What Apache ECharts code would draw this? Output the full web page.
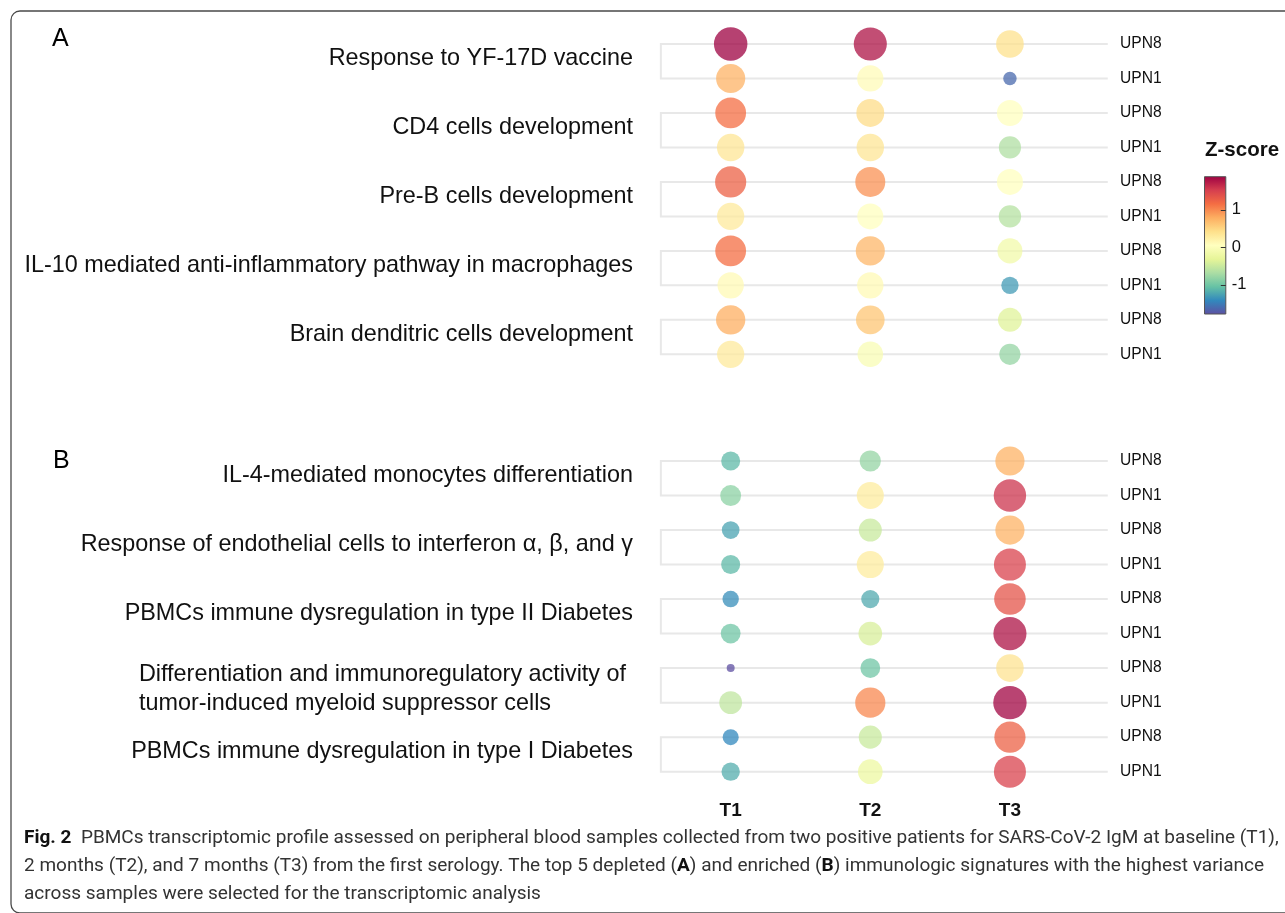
<!DOCTYPE html>
<html><head><meta charset="utf-8">
<script src="https://cdn.jsdelivr.net/npm/echarts@6/dist/echarts.min.js"></script>
<style>html,body{margin:0;padding:0;background:#fff}#c{width:1285px;height:913px}</style>
</head><body><div id="c"></div>
<script>
// ---------------- data ----------------
const timepoints = ['T1', 'T2', 'T3'];
const patients = ['UPN8', 'UPN1'];
const pathwaysA = [
  'Response to YF-17D vaccine',
  'CD4 cells development',
  'Pre-B cells development',
  'IL-10 mediated anti-inflammatory pathway in macrophages',
  'Brain denditric cells development'
];
const pathwaysB = [
  'IL-4-mediated monocytes differentiation',
  'Response of endothelial cells to interferon \u03b1, \u03b2, and \u03b3',
  'PBMCs immune dysregulation in type II Diabetes',
  'Differentiation and immunoregulatory activity of\ntumor-induced myeloid suppressor cells',
  'PBMCs immune dysregulation in type I Diabetes'
];
// z-scores: one row per pathway x patient (UPN8, UPN1); columns T1, T2, T3
const zA = [
  [1.89, 1.78, 0.40],
  [0.75, 0.10, -1.62],
  [1.15, 0.45, 0.05],
  [0.35, 0.35, -0.65],
  [1.25, 0.95, 0.05],
  [0.30, 0.05, -0.62],
  [1.15, 0.72, -0.15],
  [0.12, 0.12, -1.30],
  [0.78, 0.62, -0.35],
  [0.30, -0.05, -0.80]
];
const zB = [
  [-1.10, -0.80, 0.75],
  [-0.85, 0.28, 1.58],
  [-1.25, -0.50, 0.75],
  [-1.10, 0.28, 1.48],
  [-1.38, -1.20, 1.35],
  [-1.00, -0.40, 1.78],
  [-1.786, -1.00, 0.38],
  [-0.55, 1.00, 1.86],
  [-1.42, -0.50, 1.25],
  [-1.18, -0.22, 1.48]
];
const zRange = [-1.786, 1.89];
const colorbarTicks = [-1, 0, 1];
const spectral = ['#5e4fa2','#3288bd','#66c2a5','#abdda4','#e6f598','#ffffbf','#fee08b','#fdae61','#f46d43','#d53e4f','#9e0142'];
const captionBold = 'Fig. 2';
const captionLine1 = '  PBMCs transcriptomic profile assessed on peripheral blood samples collected from two positive patients for SARS-CoV-2 IgM at baseline (T1),';
const captionLine2 = ['2 months (T2), and 7 months (T3) from the first serology. The top 5 depleted (', 'A', ') and enriched (', 'B', ') immunologic signatures with the highest variance'];
const captionLine3 = 'across samples were selected for the transcriptomic analysis';

// ---------------- style ----------------
const FONT = '"Liberation Sans", Arial, Helvetica, sans-serif';
const CAPFONT = 'Roboto, "Noto Sans", sans-serif';
const lineColor = '#e8e8e8';
const lineExtend = 28;
const dMin = 8, dMax = 33.5;
const PFS = 23.4;

function sizeOf(z) {
  const f = Math.max(0, Math.min(1, (z - zRange[0]) / (zRange[1] - zRange[0])));
  return dMin + (dMax - dMin) * Math.sqrt(f);
}
function toPoints(rows) {
  const out = [];
  rows.forEach((r, ri) => r.forEach((z, ci) => out.push([ci, ri, z])));
  return out;
}
function rowIds(pws) {
  const ids = [];
  pws.forEach((p, i) => patients.forEach(pt => ids.push(pt + '#' + i)));
  return ids;
}
function fitCaption(target) {
  const ctx = document.createElement('canvas').getContext('2d');
  const s = 100;
  ctx.font = 'bold ' + s + 'px ' + CAPFONT;
  let w = ctx.measureText(captionBold).width;
  ctx.font = s + 'px ' + CAPFONT;
  w += ctx.measureText(captionLine1).width;
  return target / w * s;
}
const capSize = fitCaption(1256);

const gridA = { left: 660.85, top: 26.76, width: 418.9, height: 344.8 };
const gridB = { left: 660.85, top: 443.74, width: 418.9, height: 345.2 };
const gridC = { left: 1204.5, top: 176.7, width: 21.3, height: 137.3 };

function xCat(gi, showLabels) {
  return {
    type: 'category', gridIndex: gi, data: timepoints, boundaryGap: true,
    axisLine: { show: false }, axisTick: { show: false }, splitLine: { show: false },
    axisLabel: { show: showLabels, interval: 0, margin: 12, fontSize: 19, fontWeight: 'bold', fontFamily: FONT, color: '#111' }
  };
}
function yRows(gi, pws) {
  return {
    type: 'category', gridIndex: gi, data: rowIds(pws), inverse: true, position: 'right',
    axisLine: { show: false }, axisTick: { show: false }, splitLine: { show: false },
    axisLabel: { interval: 0, margin: 40.3, fontSize: 15.6, fontFamily: FONT, color: '#111', formatter: v => v.split('#')[0] }
  };
}
function yPaths(gi, pws) {
  return {
    type: 'category', gridIndex: gi, inverse: true, position: 'left',
    data: pws.map(p => p.indexOf('\n') >= 0
      ? { value: p, textStyle: { padding: [8, 0, 0, 0] } }
      : { value: p, textStyle: { padding: [0, 0, 6, 0] } }),
    axisLine: { show: false }, axisTick: { show: false }, splitLine: { show: false },
    axisLabel: {
      interval: 0, margin: 27.9, fontSize: PFS, fontFamily: FONT, color: '#111', align: 'right',
      formatter: v => v.indexOf('\n') >= 0 ? v.split('\n').map(l => '{w|' + l + '}').join('\n') : v,
      rich: { w: { width: 494, align: 'left', fontSize: PFS, lineHeight: 29, fontFamily: FONT, color: '#111' } }
    }
  };
}
function bracketSeries(xi, yi, pws) {
  return {
    type: 'custom', xAxisIndex: xi, yAxisIndex: yi, silent: true, z: 1,
    data: pws.map((p, i) => [0, 2 * i, 2 * i + 1]),
    encode: { x: 0, y: [1, 2] },
    renderItem: (params, api) => {
      const cs = params.coordSys;
      const y1 = api.coord([0, api.value(1)])[1];
      const y2 = api.coord([0, api.value(2)])[1];
      const xl = cs.x, xr = cs.x + cs.width + lineExtend;
      return {
        type: 'polyline',
        shape: { points: [[xr, y1], [xl, y1], [xl, y2], [xr, y2]] },
        style: { stroke: lineColor, lineWidth: 2, fill: null }
      };
    }
  };
}
function dotSeries(xi, yi, rows) {
  return {
    type: 'scatter', xAxisIndex: xi, yAxisIndex: yi, silent: true, z: 3,
    data: toPoints(rows), encode: { x: 0, y: 1 },
    symbol: 'circle',
    symbolSize: v => sizeOf(v[2]),
    itemStyle: { opacity: 0.75 }
  };
}
const gradStops = spectral.map((c, i) => ({ offset: i / (spectral.length - 1), color: spectral[spectral.length - 1 - i] }));

const chart = echarts.init(document.getElementById('c'), null, { renderer: 'canvas' });
chart.setOption({
  animation: false,
  backgroundColor: '#fff',
  textStyle: { fontFamily: FONT },
  graphic: [{
    type: 'rect', silent: true, z: -10,
    shape: { x: 11, y: 11, width: 1400, height: 902, r: 9 },
    style: { fill: 'none', stroke: '#4a4a4a', lineWidth: 1.3 }
  }],
  title: [
    { text: 'A', left: 52, top: 27, padding: 0, textStyle: { fontSize: 25, fontWeight: 'normal', fontFamily: FONT, color: '#000' } },
    { text: 'B', left: 53, top: 449, padding: 0, textStyle: { fontSize: 25, fontWeight: 'normal', fontFamily: FONT, color: '#000' } },
    { text: 'Z-score', left: 1205, top: 140, padding: 0, textStyle: { fontSize: 20.5, fontWeight: 'bold', fontFamily: FONT, color: '#111' } },
    {
      left: 24, top: 824, padding: 0,
      text: '{b|' + captionBold + '}{n|' + captionLine1 + '}\n' +
        '{n|' + captionLine2[0] + '}{b|' + captionLine2[1] + '}{n|' + captionLine2[2] + '}{b|' + captionLine2[3] + '}{n|' + captionLine2[4] + '}\n' +
        '{n|' + captionLine3 + '}',
      textStyle: {
        rich: {
          b: { fontFamily: CAPFONT, fontSize: capSize, fontWeight: 'bold', color: '#111', lineHeight: 28 },
          n: { fontFamily: CAPFONT, fontSize: capSize, fontWeight: 'normal', color: '#333', lineHeight: 28 }
        }
      }
    }
  ],
  grid: [
    Object.assign({ outerBoundsMode: 'none', containLabel: false }, gridA),
    Object.assign({ outerBoundsMode: 'none', containLabel: false }, gridB),
    Object.assign({ outerBoundsMode: 'none', containLabel: false }, gridC)
  ],
  xAxis: [
    xCat(0, false),
    xCat(1, true),
    { type: 'value', gridIndex: 2, min: 0, max: 1, show: false }
  ],
  yAxis: [
    yRows(0, pathwaysA),
    yPaths(0, pathwaysA),
    yRows(1, pathwaysB),
    yPaths(1, pathwaysB),
    {
      type: 'value', gridIndex: 2, min: zRange[0], max: zRange[1], position: 'right',
      axisLine: { show: false }, splitLine: { show: false }, axisTick: { show: false },
      axisLabel: { customValues: colorbarTicks, margin: 6, fontSize: 16.5, fontFamily: FONT, color: '#111' }
    }
  ],
  visualMap: [{
    type: 'continuous', show: false, dimension: 2, seriesIndex: [1, 3],
    min: zRange[0], max: zRange[1],
    inRange: { color: spectral }
  }],
  series: [
    bracketSeries(0, 0, pathwaysA),
    dotSeries(0, 0, zA),
    bracketSeries(1, 2, pathwaysB),
    dotSeries(1, 2, zB),
    {
      type: 'custom', xAxisIndex: 2, yAxisIndex: 4, silent: true, z: 2,
      data: [[0, zRange[0], zRange[1]]],
      encode: { x: 0, y: [1, 2] },
      renderItem: (params, api) => {
        const cs = params.coordSys;
        const yTop = api.coord([0, api.value(2)])[1];
        const yBot = api.coord([0, api.value(1)])[1];
        const xr = cs.x + cs.width;
        const children = [{
          type: 'rect',
          shape: { x: cs.x, y: yTop, width: cs.width, height: yBot - yTop },
          style: { fill: new echarts.graphic.LinearGradient(0, 0, 0, 1, gradStops), stroke: '#555', lineWidth: 1 }
        }];
        colorbarTicks.forEach(t => {
          const y = Math.round(api.coord([0, t])[1]) + 0.5;
          children.push({ type: 'line', shape: { x1: xr - 5, y1: y, x2: xr, y2: y }, style: { stroke: '#333', lineWidth: 1 } });
        });
        return { type: 'group', children };
      }
    }
  ]
});
</script>
</body></html>
